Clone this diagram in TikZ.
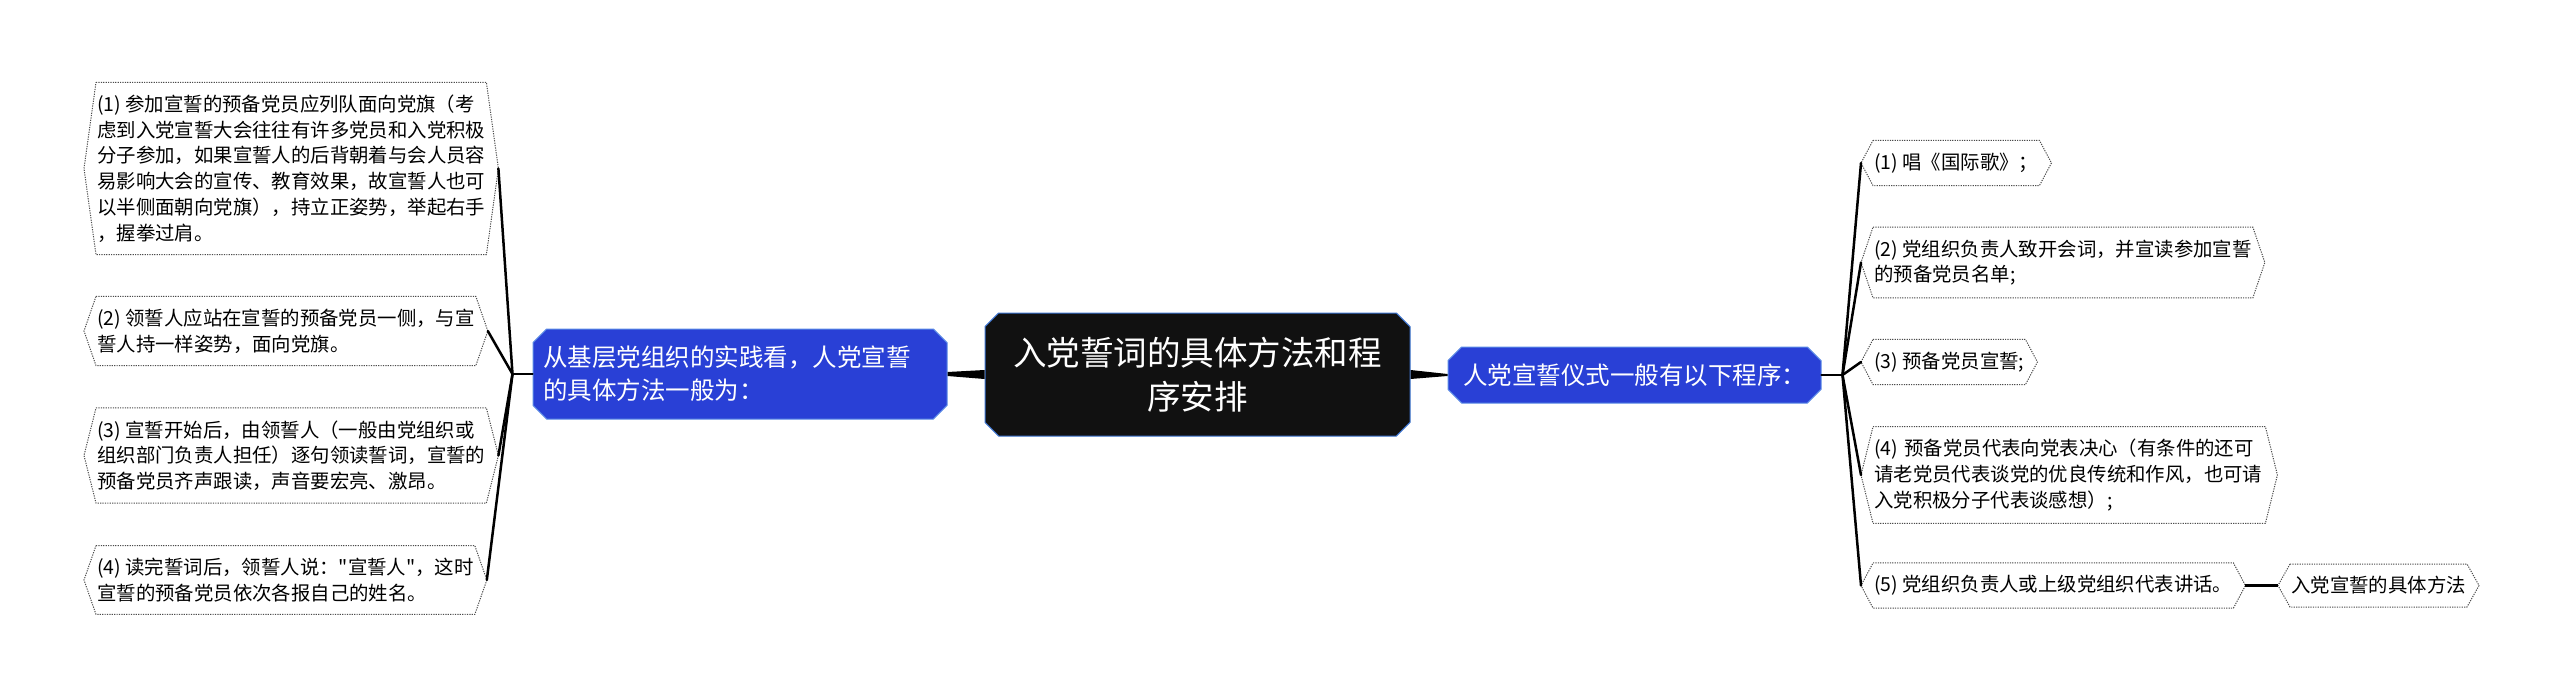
\documentclass[tikz,border=0pt]{standalone}
\usepackage{fontspec}
\setmainfont{Noto Sans CJK SC}[Ligatures=TeXOff]
\usetikzlibrary{shapes.misc}

\definecolor{nodeblue}{HTML}{2940D6}
\definecolor{edgeblue}{HTML}{5A8AE6}
\definecolor{rootfill}{HTML}{111111}
\definecolor{rootedge}{HTML}{3C74D0}

\newcommand\leaffont{\fontsize{19.4}{25.7}\selectfont}
\newcommand\branchfont{\fontsize{24.5}{33}\selectfont}
\newcommand\rootfont{\fontsize{33.5}{44}\selectfont}

\begin{document}
\begin{tikzpicture}[
    x=1pt, y=-1pt,
    leaf/.style={anchor=west, align=left, font=\leaffont, inner xsep=1pt, inner ysep=12.3pt},
    leafline/.style={draw=black!70, line width=1pt, dash pattern=on 1.2pt off 1.2pt},
    branch/.style={chamfered rectangle, chamfered rectangle xsep=10pt, draw=edgeblue, fill=nodeblue,
        line width=1pt, text=white, font=\branchfont, inner sep=0pt},
    root/.style={chamfered rectangle, chamfered rectangle xsep=10pt, draw=rootedge, fill=rootfill,
        line width=1pt, text=white, font=\rootfont, align=center, inner sep=0pt,
        minimum width=425pt, minimum height=123pt},
    twig/.style={line width=2.5pt, line cap=round},
    wedge/.style={fill=black}
]
\fill[white] (0,0) rectangle (2560,699);
\useasboundingbox (0,0) rectangle (2560,699);

% === Root and branches ===
\node[root] (topic) at (1197.5,374.5) {入党誓词的具体方法和程\\序安排};
\node[branch, align=left, text width=394pt, minimum width=414pt, minimum height=90pt] (practice) at (740,374)
    {从基层党组织的实践看，人党宣誓\\的具体方法一般为：};
\node[branch, minimum width=373pt, minimum height=56pt] (ceremony) at (1634.5,375) {人党宣誓仪式一般有以下程序：};

% === Left leaves ===
\node[leaf] (way1) at (96,168.5) {(1) 参加宣誓的预备党员应列队面向党旗（考\\虑到入党宣誓大会往往有许多党员和入党积极\\分子参加，如果宣誓人的后背朝着与会人员容\\易影响大会的宣传、教育效果，故宣誓人也可\\以半侧面朝向党旗），持立正姿势，举起右手\\，握拳过肩。};
\node[leaf] (way2) at (96,331) {(2) 领誓人应站在宣誓的预备党员一侧，与宣\\誓人持一样姿势，面向党旗。};
\node[leaf] (way3) at (96,455.5) {(3) 宣誓开始后，由领誓人（一般由党组织或\\组织部门负责人担任）逐句领读誓词，宣誓的\\预备党员齐声跟读，声音要宏亮、激昂。};
\node[leaf] (way4) at (96,580) {(4) 读完誓词后，领誓人说："宣誓人"，这时\\宣誓的预备党员依次各报自己的姓名。};

% === Right leaves ===
\node[leaf] (step1) at (1873,163) {(1) 唱《国际歌》；};
\node[leaf] (step2) at (1873,262.5) {(2) 党组织负责人致开会词，并宣读参加宣誓\\的预备党员名单;};
\node[leaf] (step3) at (1873,362) {(3) 预备党员宣誓;};
\node[leaf, text width=390pt] (step4) at (1873,475) {(4) 预备党员代表向党表决心（有条件的还可\\请老党员代表谈党的优良传统和作风，也可请\\入党积极分子代表谈感想）;};
\node[leaf] (step5) at (1873,585.5) {(5) 党组织负责人或上级党组织代表讲话。};
\node[leaf] (method) at (2290,585.5) {入党宣誓的具体方法};

% hexagon outlines and tip points
\foreach \n in {way1,way2,way3,way4,step1,step2,step3,step4,step5,method}{
    \draw[leafline] (\n.north west) -- (\n.north east) -- ([xshift=12pt]\n.east) -- (\n.south east)
        -- (\n.south west) -- ([xshift=-12pt]\n.west) -- cycle;
    \coordinate (\n-w) at ([xshift=-12pt]\n.west);
    \coordinate (\n-e) at ([xshift=12pt]\n.east);
}

% === Connectors ===
\fill[wedge] ([yshift=-4.5pt]topic.west) -- ([yshift=-2pt]practice.east) -- ([yshift=2pt]practice.east)
    -- ([yshift=4.5pt]topic.west) -- cycle;
\fill[wedge] ([yshift=-4.5pt]topic.east) -- ([yshift=-1pt]ceremony.west) -- ([yshift=1pt]ceremony.west)
    -- ([yshift=4.5pt]topic.east) -- cycle;

\coordinate (leftfork) at ([xshift=-20pt]practice.west);
\coordinate (rightfork) at ([xshift=21pt]ceremony.east);
\draw[twig] (practice.west) -- (leftfork);
\draw[twig] (ceremony.east) -- (rightfork);
\foreach \n in {way1,way2,way3,way4}
    \draw[twig] (leftfork) -- (\n-e);
\foreach \n in {step1,step2,step3,step4,step5}
    \draw[twig] (rightfork) -- (\n-w);
\draw[line width=3.5pt] (step5-e) -- (method-w);

\end{tikzpicture}
\end{document}
